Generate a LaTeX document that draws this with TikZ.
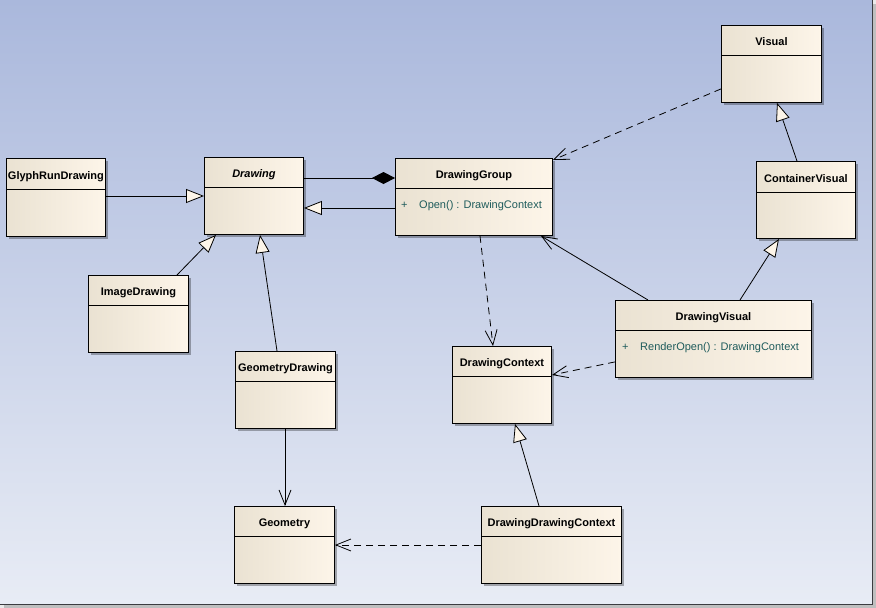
\documentclass[tikz,border=0pt]{standalone}
\usepackage{fontspec}
\setmainfont{Liberation Sans}
\usetikzlibrary{arrows.meta,shadows}
\definecolor{bgtop}{HTML}{AAB8DC}
\definecolor{bgbot}{HTML}{E8ECF5}
\definecolor{boxl}{HTML}{EAE2D2}
\definecolor{boxr}{HTML}{FDF5E9}
\definecolor{optext}{HTML}{1F5C5C}
\definecolor{framec}{HTML}{3C3C40}
\newcommand\umlbox[7]{%
  \node[cls, minimum width=#4pt, minimum height=#5pt] (#1) at (#2,#3) {};
  \draw[boxline] ([yshift=-#6pt]#1.north west) -- ([yshift=-#6pt]#1.north east);
  \node[ttl, anchor=base] (#1-t) at ([yshift=-#6pt/2-5.5pt]#1.north) {#7};}
\begin{document}
\begin{tikzpicture}[x=1pt,y=-1pt,
  cls/.style={draw=black, line width=0.9pt, left color=boxl, right color=boxr,
    anchor=north west, inner sep=0pt,
    drop shadow={shadow xshift=3pt, shadow yshift=-3pt, opacity=0.3, fill=black}},
  boxline/.style={line width=0.9pt},
  ttl/.style={font=\fontsize{11}{13}\selectfont\bfseries, inner sep=0pt},
  op/.style={font=\fontsize{11}{13}\selectfont, text=optext, inner sep=0pt, anchor=base west},
  conn/.style={line width=0.8pt, black},
  gen/.style={conn, -{Triangle[length=18pt,width=14pt,fill=boxr]}},
  assoc/.style={conn, -{Straight Barb[length=15pt,width=12pt]}},
  dep/.style={conn, dash pattern=on 7pt off 5pt, -{Straight Barb[length=15pt,width=12pt]}},
  comp/.style={conn, -{Diamond[length=23pt,width=12pt]}}]
\useasboundingbox (0,0) rectangle (876,608);
\fill[black!8] (0,0) rectangle (876,608);
\shade[top color=bgtop, bottom color=bgbot] (0,0) rectangle (872,604);
\fill[black!25] (872,4) rectangle (876,608);
\fill[black!25] (4,604) rectangle (876,608);
\draw[framec, line width=1pt] (872,0) -- (872,604) -- (0,604);

\umlbox{visual}{721}{25}{100}{77}{30}{Visual}
\umlbox{glyph}{6}{158}{99}{78}{31}{GlyphRunDrawing}
\umlbox{drawing}{204}{157}{99}{77}{30}{\itshape Drawing}
\umlbox{dg}{395}{158}{157}{77}{30}{DrawingGroup}
\umlbox{cv}{756}{161}{99}{77}{31}{ContainerVisual}
\umlbox{image}{88}{275}{100}{77}{30}{ImageDrawing}
\umlbox{dv}{615}{300}{196}{77}{30}{DrawingVisual}
\umlbox{gd}{235}{351}{100}{77}{30}{GeometryDrawing}
\umlbox{dc}{452}{346}{99}{77}{30}{DrawingContext}
\umlbox{geo}{234}{506}{100}{77}{30}{Geometry}
\umlbox{ddc}{481}{506}{140}{77}{30}{DrawingDrawingContext}

\node[op] (dg-plus) at ([xshift=6pt,yshift=-50pt]dg.north west) {+};
\node[op] (dg-op) at ([xshift=24pt,yshift=-50pt]dg.north west) {Open() : DrawingContext};
\node[op] (dv-plus) at ([xshift=7pt,yshift=-50pt]dv.north west) {+};
\node[op] (dv-op) at ([xshift=25pt,yshift=-50pt]dv.north west) {RenderOpen() : DrawingContext};

\draw[gen] ([yshift=-38pt]glyph.north east) -- ([yshift=-39pt]drawing.north west);
\draw[comp] ([yshift=-21pt]drawing.north east) -- ([yshift=-20pt]dg.north west);
\draw[gen] ([yshift=-50pt]dg.north west) -- ([yshift=-51pt]drawing.north east);
\draw[gen] ([xshift=89pt]image.north west) -- ([xshift=12pt]drawing.south west);
\draw[gen] ([xshift=42pt]gd.north west) -- ([xshift=56pt]drawing.south west);
\draw[assoc] ([xshift=50pt]gd.south west) -- ([xshift=51pt]geo.north west);
\draw[dep] ([yshift=14pt]visual.south west) -- ([yshift=-2pt]dg.north east);
\draw[gen] ([xshift=41pt]cv.north west) -- ([xshift=56pt]visual.south west);
\draw[gen] ([xshift=125pt]dv.north west) -- ([xshift=23pt]cv.south west);
\draw[assoc] ([xshift=33pt]dv.north west) -- ([xshift=-12pt]dg.south east);
\draw[dep] ([xshift=85pt]dg.south west) -- ([xshift=41pt]dc.north west);
\draw[dep] ([yshift=16pt]dv.south west) -- ([yshift=-29pt]dc.north east);
\draw[gen] ([xshift=58pt]ddc.north west) -- ([xshift=63pt]dc.south west);
\draw[dep] ([yshift=-39pt]ddc.north west) -- ([yshift=-39pt]geo.north east);
\end{tikzpicture}
\end{document}
